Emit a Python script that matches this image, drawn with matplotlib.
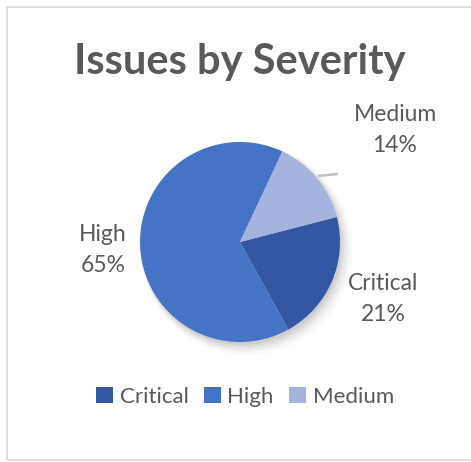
import matplotlib
matplotlib.use("Agg")
import matplotlib.pyplot as plt
from matplotlib.patches import Rectangle, Circle, Patch
import numpy as np

categories = ["Critical", "High", "Medium"]
values = [21, 65, 14]
colors = ["#3457a3", "#4573c6", "#a4b4de"]
title = "Issues by Severity"

W, H = 471, 462
fig = plt.figure(figsize=(W / 100, H / 100), dpi=100)
fig.patch.set_facecolor("white")

# chart frame
fig.patches.append(Rectangle((7 / W, (H - 460) / H), 1.2, (460 - 7) / H,
                             transform=fig.transFigure, fill=False,
                             edgecolor="#d9d9d9", linewidth=1.2))

cx, cy, r = 240, 242, 100
ax = fig.add_axes([(cx - 2 * r) / W, (H - cy - 2 * r) / H, 4 * r / W, 4 * r / H])

wedges, _ = ax.pie(values, colors=colors, startangle=14.5, counterclock=False,
                   radius=1.0, wedgeprops=dict(linewidth=0), center=(0, 0))
for w in wedges:
    w.set_zorder(2)

ax.set_xlim(-2, 2)
ax.set_ylim(-2, 2)
ax.set_aspect("equal")
ax.axis("off")

# soft shadow
for i, a in enumerate(np.linspace(0.05, 0.01, 6)):
    ax.add_patch(Circle((0.02 + 0.01 * i, -0.03 - 0.01 * i), 1.0 + 0.012 * i,
                        color="black", alpha=a, lw=0, zorder=0))

txt_color = "#595959"
lab_font = "Lato"
label_pos = {"Critical": (1.43, -0.57), "High": (-1.37, -0.08), "Medium": (1.55, 1.12)}
total = sum(values)
for cat, v in zip(categories, values):
    x, y = label_pos[cat]
    ax.text(x, y, f"{cat}\n{round(100 * v / total)}%", ha="center", va="center",
            fontsize=16.5, color=txt_color, family=lab_font, linespacing=1.6)

# leader line for Medium
ax.plot([0.78, 0.98], [0.66, 0.68], color="#bfbfbf", lw=1.8, zorder=3,
        solid_capstyle="butt")

fig.text(240 / W, 1 - 62 / H, title, ha="center", va="center", fontsize=30,
         fontweight="bold", color=txt_color, family=lab_font)

handles = [Patch(facecolor=c, edgecolor="none") for c in colors]
fig.legend(handles, categories, loc="center", bbox_to_anchor=(245 / W, 1 - 397 / H),
           ncol=3, frameon=False, handlelength=0.75, handleheight=0.75,
           handletextpad=0.3, columnspacing=0.7, labelcolor=txt_color,
           prop=dict(family=lab_font, size=16))

fig.savefig("out.png", dpi=100)
